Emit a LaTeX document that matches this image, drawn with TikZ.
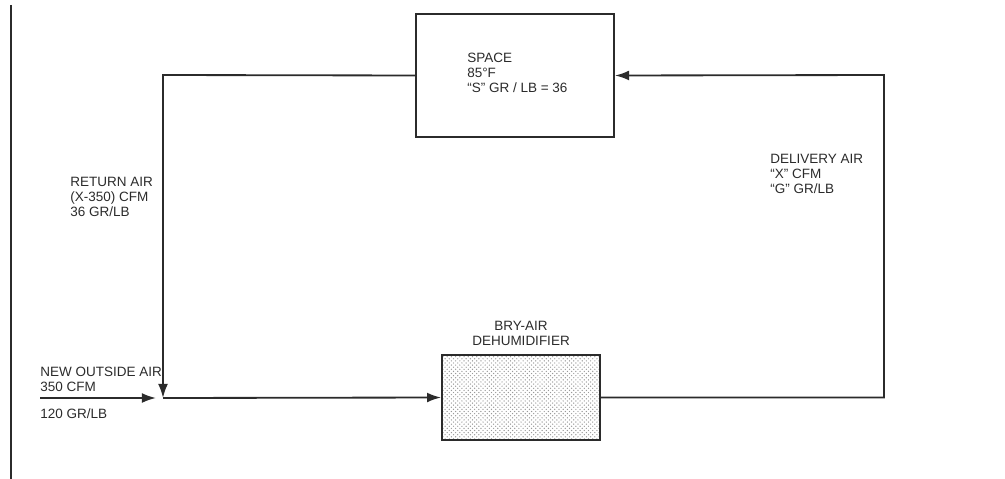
\documentclass[tikz,border=0pt]{standalone}
\usepackage{fontspec}
\setsansfont{Liberation Sans}
\usepackage{tikz}
\usetikzlibrary{arrows.meta, positioning, patterns}
\definecolor{inkGray}{HTML}{2B2B2B}

\begin{document}
\begin{tikzpicture}[
    x=0.025cm, y=-0.025cm,
    font=\sffamily\fontsize{9.6}{10.8}\selectfont, text=inkGray,
    >={Latex[length=10pt,width=7pt]},
    node distance=0.3cm,
    flow/.style={draw=inkGray, line width=1.3pt},
    unit/.style={draw=inkGray, line width=1.3pt, fill=#1},
    lbl/.style={align=left, inner sep=0pt, anchor=west},
  ]
    \useasboundingbox (0,0) rectangle (1005,479);
    \draw[line width=1.5pt, inkGray] (11,5) -- (11,479);

    % Space
    \node[unit=white, minimum width=4.95cm, minimum height=3.075cm] (space) at (515,75.5) {};
    \node[lbl] (spacetxt) at (467,73) {SPACE\\85°F\\“S” GR / LB = 36};

    % Dehumidifier
    \node[unit=gray!12, pattern=crosshatch dots, pattern color=gray!80,
          minimum width=3.95cm, minimum height=2.125cm] (dehum) at (521,397.5) {};
    \node[above=0.2cm of dehum, align=center, inner sep=0pt] (dehumtxt) {BRY-AIR\\DEHUMIDIFIER};

    % corner points of the ducts
    \coordinate (rtn) at (163,75);
    \coordinate (mix) at (163,398);
    \coordinate (oa) at (40,398);
    \coordinate (oaend) at (156,398);
    \coordinate (dlv) at (884,75);

    \draw[flow, ->] (space.west) -- (rtn) -- (mix);
    \draw[flow, ->] (oa) -- (oaend);
    \draw[flow, ->] (mix) -- (dehum.west);
    \draw[flow, ->] (dehum.east) -| (dlv) -- (space.east);

    % stream labels
    \node[lbl] (rtntxt) at (70,197) {RETURN AIR\\(X-350) CFM\\36 GR/LB};
    \node[lbl] (dlvtxt) at (770,174) {DELIVERY AIR\\“X” CFM\\“G” GR/LB};
    \node[lbl] (oatxt) at (40,379.5) {NEW OUTSIDE AIR\\350 CFM};
    \node[lbl] (oagr) at (40,414) {120 GR/LB};
  \end{tikzpicture}
\end{document}
